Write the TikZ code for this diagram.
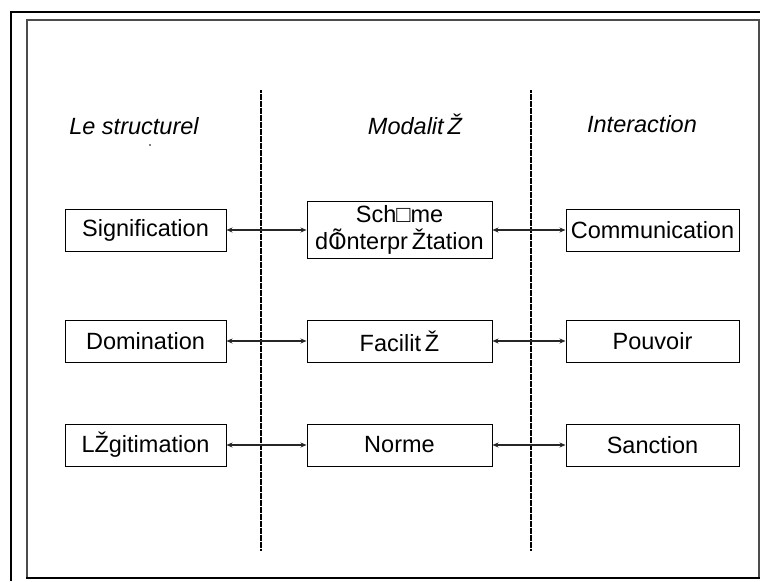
\documentclass[tikz,border=0pt]{standalone}
\usepackage{fontspec}
\setmainfont{Liberation Sans}
\usetikzlibrary{arrows.meta, positioning}

\begin{document}
\begin{tikzpicture}[x=1pt, y=-1pt,
    box/.style = {draw, line width=1pt, minimum height=42pt, inner sep=0pt, align=center, font=\fontsize{23.5}{27}\selectfont},
    heading/.style = {font=\fontsize{23.5}{27}\selectfont\itshape},
    link/.style = {{Stealth[length=6pt,width=5pt]}-{Stealth[length=6pt,width=5pt]}, line width=2pt, black!85},
    divider/.style = {line width=2.2pt, dash pattern=on 3pt off 0.5pt}]
    \useasboundingbox (0,0) rectangle (760,581);
    % frames
    \draw[line width=2.5pt] (11,581) -- (11,12) -- (760,12);
    \draw[gray!60!black, line width=1.2pt] (27,578) -- (27,20) -- (759,20) -- (759,578);
    \draw[line width=2.2pt] (26,578) -- (760,578);
    % column separators
    \draw[divider] (261,90) -- (261,551);
    \draw[divider, line width=1.1pt] (531,90) -- (531,551);
    % headings
    \node[heading] (structurel) at (134,126) {Le structurel};
    \node[heading] (modalite) at (415,124) {Modalit\,Ž};
    \node[heading] (interaction) at (642,124) {Interaction};
    \fill (150,145) circle (0.8);
    % boxes
    \node[box, minimum width=161pt] (signif) at (145.5,230) {Signification};
    \node[box, minimum width=185pt, minimum height=57pt] (schema) at (399.5,230) {Sch□me\\d\rlap{Õ}\hspace{0.28em}i\hspace{0.28em}nterpr\,Žtation};
    \node[box, minimum width=173pt] (comm) at (652.5,230) {Communication};
    \node[box, minimum width=161pt] (domin) at (145.5,341) {Domination};
    \node[box, minimum width=185pt] (facil) at (399.5,341) {Facilit\,Ž};
    \node[box, minimum width=173pt] (pouvoir) at (652.5,341) {Pouvoir};
    \node[box, minimum width=161pt] (legit) at (145.5,445) {LŽgitimation};
    \node[box, minimum width=185pt] (norme) at (399.5,445) {Norme};
    \node[box, minimum width=173pt] (sanction) at (652.5,445) {Sanction};
    % links
    \draw[link] (signif) -- (schema);
    \draw[link] (schema) -- (comm);
    \draw[link] (domin) -- (facil);
    \draw[link] (facil) -- (pouvoir);
    \draw[link] (legit) -- (norme);
    \draw[link] (norme) -- (sanction);
\end{tikzpicture}
\end{document}
